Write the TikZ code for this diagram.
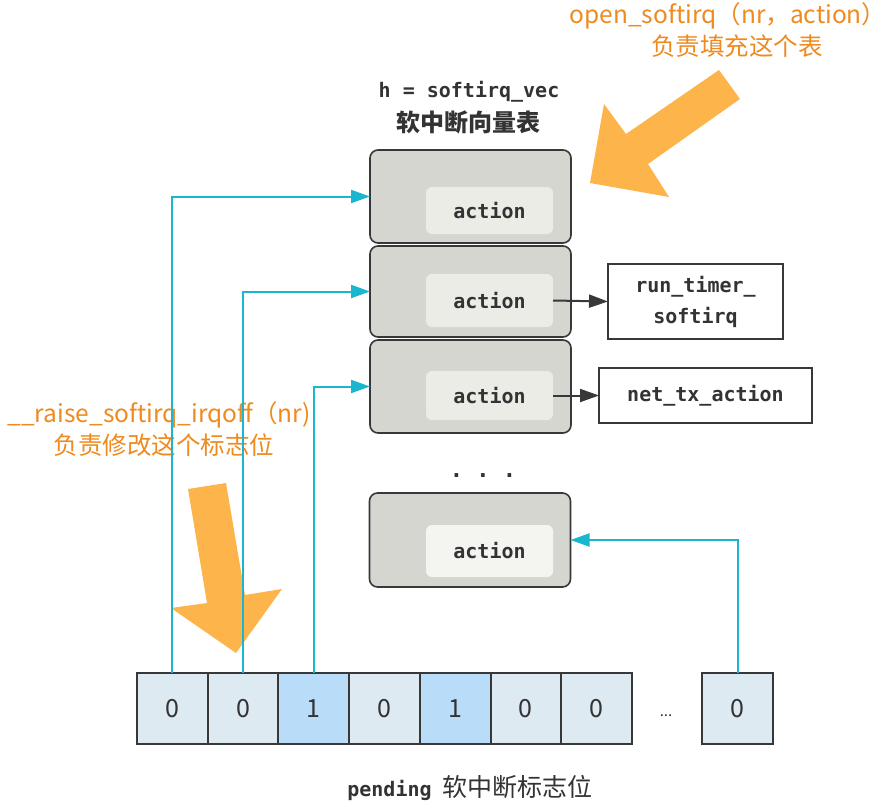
\documentclass[tikz,border=0pt]{standalone}
\usepackage{fontspec}
\setmainfont{Noto Sans CJK SC}
\setmonofont{DejaVu Sans Mono}
\newfontfamily\cjk{Noto Sans CJK SC}
\usetikzlibrary{arrows.meta}
\definecolor{vecfill}{HTML}{D6D6D0}
\definecolor{innerfill}{HTML}{ECECE7}
\definecolor{edge}{HTML}{383838}
\definecolor{txt}{HTML}{333333}
\definecolor{cyanline}{HTML}{1AB5CE}
\definecolor{cellfill}{HTML}{DDEAF2}
\definecolor{hotfill}{HTML}{B9DCF8}
\definecolor{orangetxt}{HTML}{EE8A1E}
\definecolor{orangefill}{HTML}{FDB44B}
\tikzset{
  monofont/.style={font=\ttfamily\bfseries\fontsize{20}{24}\selectfont},
  vecbox/.style={draw=edge, line width=1.6pt, fill=vecfill, rounded corners=8pt,
    minimum width=201pt, inner sep=0pt, outer sep=0pt},
  innerbox/.style={fill=innerfill, rounded corners=6pt, minimum width=127pt,
    inner sep=0pt, outer sep=0pt, text=txt, monofont},
  fnbox/.style={draw=edge, line width=1.6pt, fill=white, inner sep=0pt, outer sep=0pt,
    text=txt, align=center, font=\ttfamily\bfseries\fontsize{20}{31}\selectfont},
  cell/.style={draw=edge, line width=2pt, fill=cellfill, minimum width=70.7pt,
    minimum height=71pt, inner sep=0pt, outer sep=0pt, text=txt,
    font=\cjk\fontsize{25}{27}\selectfont},
  hotcell/.style={cell, fill=hotfill},
  cyanarrow/.style={draw=cyanline, line width=2pt, -{Triangle[length=19pt,width=13pt]}},
  blackarrow/.style={draw=edge, line width=2pt, -{Triangle[length=19pt,width=13pt]}},
  orangetext/.style={text=orangetxt, inner sep=0pt, text height=18pt, text depth=6pt,
    font=\cjk\fontsize{24.5}{30}\selectfont},
  darktext/.style={text=txt, align=center},
  bigarrow/.style={fill=orangefill, draw=none}
}
\begin{document}
\begin{tikzpicture}[x=1pt,y=-1pt]
\useasboundingbox (0,0) rectangle (888,808);
\fill[white] (0,0) rectangle (888,808);

% big orange arrows
\fill[bigarrow] (719,70) -- (740,99) -- (648,164) -- (669,197) -- (590,183) -- (604,104) -- (626,134) -- cycle;
\fill[bigarrow] (188,489) -- (226,483) -- (245,595) -- (282,589) -- (236,653) -- (171,608) -- (207,603) -- cycle;

% titles
\node[orangetext] (opentxt) at (728,18) {open\_softirq（nr，action）};
\node[orangetext] (opentxt2) at (737,50) {负责填充这个表};
\node[darktext, monofont] (htxt) at (469,92) {h = softirq\_vec};
\node[darktext, font=\cjk\bfseries\fontsize{24}{26}\selectfont] (vectxt) at (468,122) {软中断向量表};
\node[orangetext] (raisetxt) at (159,416) {\_\_raise\_softirq\_irqoff（nr)};
\node[orangetext] (raisetxt2) at (164,448) {负责修改这个标志位};

% vector boxes
\node[vecbox, minimum height=93pt] (b1) at (470.5,196.5) {};
\node[vecbox, minimum height=91pt] (b2) at (470.5,291.5) {};
\node[vecbox, minimum height=93pt] (b3) at (470.5,386.5) {};
\node[vecbox, minimum height=94pt] (b4) at (470,540) {};

\node[innerbox, minimum height=47pt] (a1) at (489.5,210.5) {action};
\node[innerbox, minimum height=53pt] (a2) at (489.5,300.5) {action};
\node[innerbox, minimum height=49pt] (a3) at (489.5,395.5) {action};
\node[innerbox, minimum height=52pt, fill=innerfill!60!white] (a4) at (489.5,551) {action};

\node[darktext, font=\ttfamily\bfseries\fontsize{22}{24}\selectfont] (dots) at (483,476) {. . .};

% function boxes
\node[fnbox, minimum width=175pt, minimum height=75pt] (f1) at (695.5,301.5) {run\_timer\_\\softirq};
\node[fnbox, minimum width=213pt, minimum height=55pt] (f2) at (705.5,395.5) {net\_tx\_action};

\draw[blackarrow] (a2.east) -- (f1.west);
\draw[blackarrow] (a3.east) -- (f2.west);

% pending cells
\node[cell] (c1) at (172.35,708.5) {0};
\node[cell] (c2) at (243.05,708.5) {0};
\node[hotcell] (c3) at (313.75,708.5) {1};
\node[cell] (c4) at (384.45,708.5) {0};
\node[hotcell] (c5) at (455.15,708.5) {1};
\node[cell] (c6) at (525.85,708.5) {0};
\node[cell] (c7) at (596.55,708.5) {0};
\node[text=txt, font=\cjk\fontsize{15}{16}\selectfont] (ell) at (666,716) {...};
\node[cell] (c9) at (737.5,708.5) {0};

\node[darktext] (pendtxt) at (470,788) {{\ttfamily\bfseries\fontsize{20}{24}\selectfont pending}\hspace{11pt}{\cjk\fontsize{25}{26}\selectfont 软中断标志位}};

% cyan connectors
\draw[cyanarrow] (c1.north) |- (b1.west);
\draw[cyanarrow] (c2.north) |- (b2.west);
\draw[cyanarrow] (c3.north) |- (b3.west);
\draw[cyanarrow] (c9.north) |- (b4.east);
\end{tikzpicture}
\end{document}
